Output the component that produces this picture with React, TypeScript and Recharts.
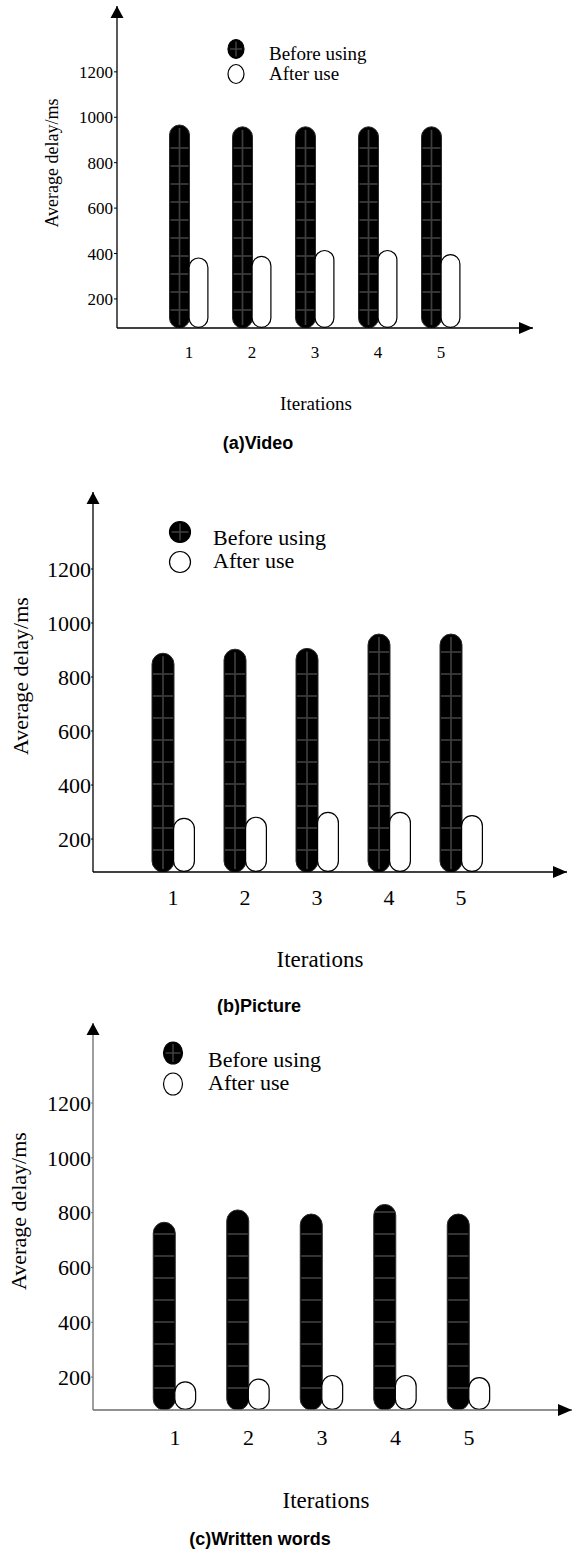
import { Bar, BarChart, Legend, XAxis, YAxis } from "recharts"

const iterations = ["1", "2", "3", "4", "5"]
const seriesNames = ["Before using", "After use"]
const yTicks = [200, 400, 600, 800, 1000, 1200]

const videoBefore = [966, 958, 958, 958, 958]
const videoAfter = [383, 390, 416, 416, 398]

const pictureBefore = [888, 903, 906, 959, 959]
const pictureAfter = [279, 283, 301, 301, 289]

const wordsBefore = [765, 810, 795, 830, 795]
const wordsAfter = [185, 195, 208, 208, 200]

const SERIF = '"Liberation Serif", "Times New Roman", serif'
const SANS = '"Liberation Sans", Arial, sans-serif'

type PanelCfg = {
  caption: string
  before: number[]
  after: number[]
  top: number
  height: number
  axisX: number
  plotTop: number
  plotBottom: number
  plotRight: number
  domain: [number, number]
  padLeft: number
  padRight: number
  barSize: number
  tickFont: number
  tickSize: number
  tickMargin: number
  xTickGap: number
  titleFont: number
  yTitle: [number, number]
  xTitle: [number, number]
  captionAt: [number, number]
  legendFont: number
  legendX: number
  legendCy: [number, number]
  legendR: [number, number]
  legendTextX: number
  legendBase: [number, number]
  gridStep: number
  vertical: boolean
  axisColor: string
}

const panels: PanelCfg[] = [
  {
    caption: "(a)Video",
    before: videoBefore,
    after: videoAfter,
    top: 0,
    height: 465,
    axisX: 117,
    plotTop: 6,
    plotBottom: 328,
    plotRight: 533,
    domain: [72, 1490],
    padLeft: 40.5,
    padRight: 60.5,
    barSize: 20,
    tickFont: 17,
    tickSize: 3,
    tickMargin: 1,
    xTickGap: 17.5,
    titleFont: 18,
    yTitle: [52, 163],
    xTitle: [316, 403],
    captionAt: [258, 443],
    legendFont: 19,
    legendX: 236,
    legendCy: [49, 74],
    legendR: [8, 9.5],
    legendTextX: 269,
    legendBase: [60, 80],
    gridStep: 18,
    vertical: true,
    axisColor: "#000",
  },
  {
    caption: "(b)Picture",
    before: pictureBefore,
    after: pictureAfter,
    top: 470,
    height: 545,
    axisX: 93,
    plotTop: 492,
    plotBottom: 872,
    plotRight: 567,
    domain: [78, 1485],
    padLeft: 44,
    padRight: 70,
    barSize: 22,
    tickFont: 22,
    tickSize: 2,
    tickMargin: 0,
    xTickGap: 17.6,
    titleFont: 22,
    yTitle: [20, 676],
    xTitle: [320, 959],
    captionAt: [259, 1006],
    legendFont: 22,
    legendX: 180,
    legendCy: [532, 562],
    legendR: [10.5, 10.5],
    legendTextX: 213,
    legendBase: [545, 568],
    gridStep: 22,
    vertical: true,
    axisColor: "#000",
  },
  {
    caption: "(c)Written words",
    before: wordsBefore,
    after: wordsAfter,
    top: 1012,
    height: 540,
    axisX: 93,
    plotTop: 1023,
    plotBottom: 1410,
    plotRight: 572,
    domain: [80, 1492],
    padLeft: 45.25,
    padRight: 66.25,
    barSize: 22,
    tickFont: 22,
    tickSize: 2,
    tickMargin: 0,
    xTickGap: 19.6,
    titleFont: 22,
    yTitle: [18, 1211],
    xTitle: [326, 1500],
    captionAt: [260, 1539],
    legendFont: 22,
    legendX: 173,
    legendCy: [1053, 1084],
    legendR: [9.5, 11],
    legendTextX: 208,
    legendBase: [1067, 1090],
    gridStep: 22,
    vertical: false,
    axisColor: "#6b6b6b",
  },
]

function beforeShape(step: number, vertical: boolean) {
  return (props: any) => {
    const { x, y, width, height } = props
    if (!height || height <= 0) return <g />
    const r = width / 2
    const bottom = y + height
    const lines = []
    for (let ly = bottom - step; ly > y + r * 0.6; ly -= step) {
      lines.push(<line key={ly} x1={x + 1} x2={x + width - 1} y1={ly} y2={ly} />)
    }
    return (
      <g>
        <rect x={x} y={y} width={width} height={height} rx={r} ry={r} fill="#000" stroke="#2a2a2a" />
        <g stroke="#3d3d3d" strokeWidth={1.7}>
          {lines}
          {vertical && <line x1={x + r} x2={x + r} y1={y + 3} y2={bottom - 3} />}
        </g>
      </g>
    )
  }
}

function afterShape(props: any) {
  const { x, y, width, height } = props
  if (!height || height <= 0) return <g />
  const r = (width - 1.2) / 2
  return (
    <rect
      x={x + 0.6}
      y={y + 0.6}
      width={width - 1.2}
      height={height - 1.2}
      rx={r}
      ry={r}
      fill="#fff"
      stroke="#000"
      strokeWidth={1.2}
    />
  )
}

function ChartPanel({ cfg }: { cfg: PanelCfg }) {
  const data = iterations.map((it, i) => ({
    iteration: it,
    before: cfg.before[i],
    after: cfg.after[i],
  }))
  const t = cfg.top
  const plotTop = cfg.plotTop - t
  const plotBottom = cfg.plotBottom - t
  const xAxisHeight = 30

  const yLabel = () => (
    <g>
      <polygon
        points={`${cfg.axisX},${plotTop} ${cfg.axisX - 6.5},${plotTop + 12} ${cfg.axisX + 6.5},${plotTop + 12}`}
        fill="#000"
      />
      <text
        x={cfg.yTitle[0]}
        y={cfg.yTitle[1] - t}
        transform={`rotate(-90 ${cfg.yTitle[0]} ${cfg.yTitle[1] - t})`}
        textAnchor="middle"
        dominantBaseline="central"
        fontFamily={SERIF}
        fontSize={cfg.titleFont}
        fill="#000"
      >
        Average delay/ms
      </text>
    </g>
  )

  const xLabel = () => (
    <g>
      <polygon
        points={`${cfg.plotRight},${plotBottom} ${cfg.plotRight - 14},${plotBottom - 6} ${cfg.plotRight - 14},${plotBottom + 6}`}
        fill="#000"
      />
      <text
        x={cfg.xTitle[0]}
        y={cfg.xTitle[1] - t}
        textAnchor="middle"
        dominantBaseline="central"
        fontFamily={SERIF}
        fontSize={cfg.titleFont + 1}
        fill="#000"
      >
        Iterations
      </text>
      <text
        x={cfg.captionAt[0]}
        y={cfg.captionAt[1] - t}
        textAnchor="middle"
        dominantBaseline="central"
        fontFamily={SANS}
        fontWeight="bold"
        fontSize={18}
        fill="#000"
      >
        {cfg.caption}
      </text>
    </g>
  )

  const legendContent = () => (
    <svg width={574} height={120} style={{ display: "block" }}>
      {seriesNames.map((name, i) => {
        const cy = cfg.legendCy[i] - t
        return (
          <g key={name}>
            <ellipse
              cx={cfg.legendX}
              cy={cy}
              rx={cfg.legendR[0]}
              ry={cfg.legendR[1]}
              fill={i === 0 ? "#000" : "#fff"}
              stroke="#000"
              strokeWidth={1.2}
            />
            {i === 0 && (
              <g stroke="#444" strokeWidth={1.4}>
                <line x1={cfg.legendX} x2={cfg.legendX} y1={cy - cfg.legendR[1] + 2} y2={cy + cfg.legendR[1] - 2} />
                <line x1={cfg.legendX - cfg.legendR[0] + 2} x2={cfg.legendX + cfg.legendR[0] - 2} y1={cy} y2={cy} />
              </g>
            )}
            <text x={cfg.legendTextX} y={cfg.legendBase[i] - t} fontFamily={SERIF} fontSize={cfg.legendFont} fill="#000">
              {name}
            </text>
          </g>
        )
      })}
    </svg>
  )

  return (
    <div style={{ position: "absolute", left: 0, top: cfg.top, width: 574, height: cfg.height }}>
      <BarChart
        width={574}
        height={cfg.height}
        data={data}
        barGap={-1}
        margin={{
          top: plotTop,
          right: 574 - cfg.plotRight,
          left: 0,
          bottom: cfg.height - plotBottom - xAxisHeight,
        }}
      >
        <XAxis
          dataKey="iteration"
          height={xAxisHeight}
          padding={{ left: cfg.padLeft, right: cfg.padRight }}
          tickLine={false}
          tickSize={6}
          tickMargin={cfg.xTickGap - 6}
          axisLine={{ stroke: cfg.axisColor, strokeWidth: 1.3 }}
          tick={{ fontFamily: SERIF, fontSize: cfg.tickFont, fill: "#000" }}
          label={xLabel}
        />
        <YAxis
          type="number"
          width={cfg.axisX}
          domain={cfg.domain}
          ticks={yTicks}
          allowDataOverflow
          tickSize={cfg.tickSize}
          tickMargin={cfg.tickMargin}
          axisLine={{ stroke: cfg.axisColor, strokeWidth: 1.3 }}
          tickLine={{ stroke: cfg.axisColor }}
          tick={{ fontFamily: SERIF, fontSize: cfg.tickFont, fill: "#000" }}
          label={yLabel}
        />
        <Legend
          layout="horizontal"
          verticalAlign="middle"
          align="center"
          content={legendContent}
          wrapperStyle={{ left: 0, top: 0, width: 574, height: 120, pointerEvents: "none" }}
        />
        <Bar
          dataKey="before"
          name={seriesNames[0]}
          barSize={cfg.barSize}
          isAnimationActive={false}
          shape={beforeShape(cfg.gridStep, cfg.vertical)}
        />
        <Bar
          dataKey="after"
          name={seriesNames[1]}
          barSize={cfg.barSize}
          isAnimationActive={false}
          shape={afterShape}
        />
      </BarChart>
    </div>
  )
}

export default function App() {
  return (
    <div style={{ position: "absolute", left: 0, top: 0, width: 574, height: 1552, background: "#fff" }}>
      {panels.map((p) => (
        <ChartPanel key={p.caption} cfg={p} />
      ))}
    </div>
  )
}
